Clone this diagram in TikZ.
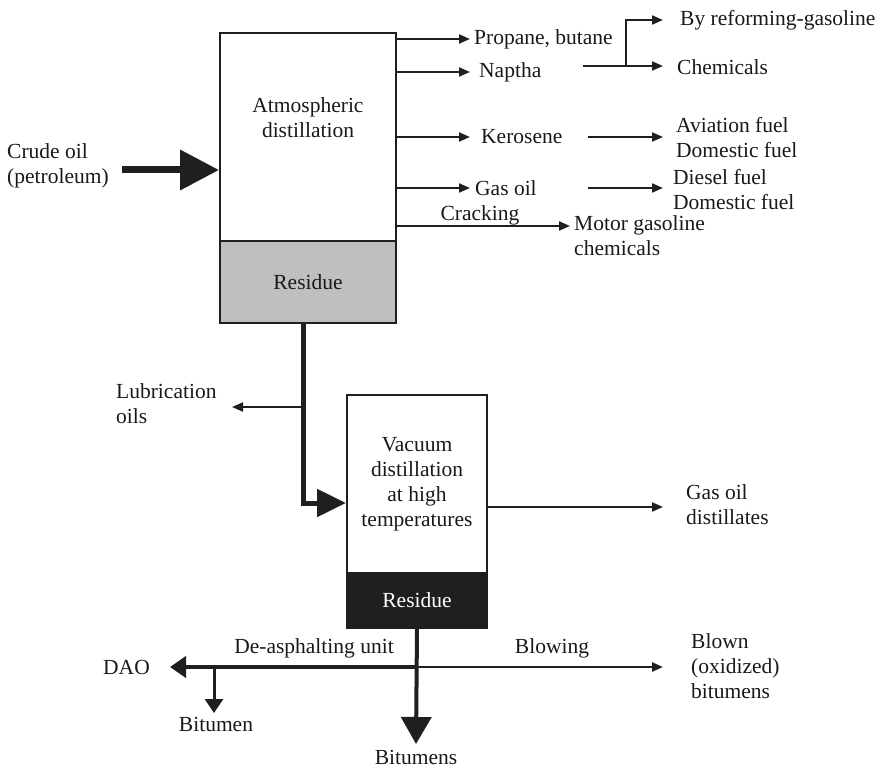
\documentclass[tikz,border=0pt]{standalone}
\usepackage{fontspec}
\setmainfont{Liberation Serif}
\usetikzlibrary{arrows.meta}
\usetikzlibrary{positioning}

\begin{document}
\begin{tikzpicture}[x=1pt, y=-1pt, font=\fontsize{21.5}{25}\selectfont,
  unit/.style={draw=black!88, line width=2pt, inner sep=0pt, anchor=north west},
  flow/.style={black!88, line width=2pt, -{Triangle[length=11pt,width=9pt]}},
  lbl/.style={align=left, inner sep=0pt, anchor=west, text=black!90}]
\useasboundingbox (0,0) rectangle (881,767);

% atmospheric column
\node[unit, minimum width=176pt, minimum height=208pt] (atm) at (219,32) {};
\node[align=center, text=black!90] (atmlbl) at (308,118) {Atmospheric\\distillation};
\node[unit, fill=gray!50, text=black!90, minimum width=176pt, minimum height=82pt] (res) at (219,240) {Residue};

\node[lbl] (crude) at (7,166) {Crude oil\\(petroleum)};
\coordinate (crudein) at (122,170);
\draw[black!88, line width=7pt, -{Triangle[length=39pt,width=39pt]}] (crudein) -- (crudein -| atm.west);

% cuts
\node[lbl] (prop) at (474,39) {Propane, butane};
\node[lbl] (nap) at (479,72) {Naptha};
\node[lbl] (ker) at (481,137) {Kerosene};
\node[lbl] (gas) at (475,188) {Gas oil};
\draw[flow, shorten >=4pt] (atm.east |- prop.west) -- (prop.west);
\draw[flow, shorten >=9pt] (atm.east |- nap.west) -- (nap.west);
\draw[flow, shorten >=11pt] (atm.east |- ker.west) -- (ker.west);
\draw[flow, shorten >=5pt] (atm.east |- gas.west) -- (gas.west);

\node[text=black!90] (crack) at (480,215) {Cracking};
\node[lbl, anchor=north west] (motor) at (574,215) {Motor gasoline\\chemicals};
\coordinate (crackrow) at (570,226);
\draw[flow] (atm.east |- crackrow) -- (crackrow);

% naptha branch
\coordinate (naptail) at (583,66);
\coordinate (fork) at (626,66);
\node[lbl] (reform) at (680,20) {By reforming-gasoline};
\node[lbl] (chem) at (677,67) {Chemicals};
\draw[black!88, line width=2pt] (naptail) -- (fork);
\draw[flow, shorten >=17pt] (fork) |- (reform.west);
\draw[flow, shorten >=14pt] (fork) -- (fork -| chem.west);

\coordinate (kertail) at (588,137);
\node[lbl] (avi) at (676,138) {Aviation fuel\\Domestic fuel};
\draw[flow, shorten >=13pt] (kertail) -- (kertail -| avi.west);

\coordinate (gastail) at (588,188);
\node[lbl] (dies) at (673,190) {Diesel fuel\\Domestic fuel};
\draw[flow, shorten >=10pt] (gastail) -- (gastail -| dies.west);

% vacuum column
\node[unit, minimum width=140pt, minimum height=178pt, align=center, text=black!90] (vac) at (346,394) {Vacuum\\distillation\\at high\\temperatures};
\node[unit, fill=black!88, text=white, minimum width=140pt, minimum height=55pt] (vres) at (346,572) {Residue};

\coordinate (bend) at (303,503);
\draw[black!88, line width=5pt, -{Triangle[length=29pt,width=27pt]}] (bend |- res.south) -- (bend) -- (bend -| vac.west);

\node[lbl] (lub) at (116,404) {Lubrication\\oils};
\coordinate (lubjoin) at (303,407);
\coordinate (lubend) at (232,407);
\draw[flow] (lubjoin) -- (lubend);

\node[lbl] (dist) at (686,505) {Gas oil\\distillates};
\coordinate (distrow) at (486,507);
\draw[flow, shorten >=23pt] (distrow) -- (distrow -| dist.west);

% residue products
\coordinate (cross) at (416,667);
\coordinate (bitsend) at (416,744);
\node[text=black!90] (bits) at (416,757) {Bitumens};
\draw[black!88, line width=4pt, -{Triangle[length=27pt,width=30pt]}] (vres.south) -- (bitsend);

\node[lbl, anchor=east] (dao) at (150,667) {DAO};
\draw[black!88, line width=4pt, -{Triangle[length=16pt,width=21pt]}] (cross) -- ([xshift=20pt]dao.east);
\node[text=black!90] (deas) at (314,648) {De-asphalting unit};

\coordinate (bitjoin) at (214,667);
\coordinate (bitend) at (214,713);
\node[text=black!90] (bit) at (216,724) {Bitumen};
\draw[black!88, line width=3pt, -{Triangle[length=14pt,width=18pt]}] (bitjoin) -- (bitend);

\node[text=black!90] (blow) at (552,648) {Blowing};
\node[lbl] (blown) at (691,666) {Blown\\(oxidized)\\bitumens};
\draw[flow, line width=2.5pt, shorten >=28pt] (cross) -- (cross -| blown.west);
\end{tikzpicture}
\end{document}
